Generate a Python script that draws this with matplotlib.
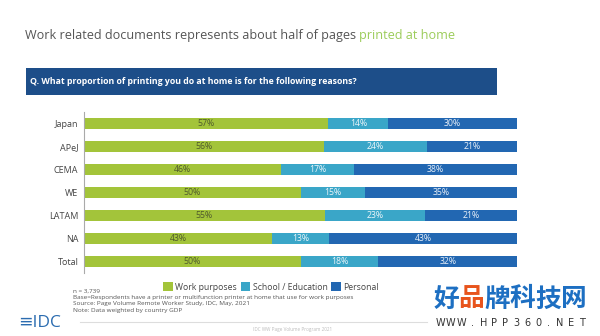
import matplotlib
matplotlib.use('Agg')
import matplotlib.pyplot as plt
from matplotlib.patches import Rectangle
from matplotlib.lines import Line2D
import numpy as np

plt.rcParams['font.family'] = ['Open Sans', 'DejaVu Sans']

# data
regions = ['Japan', 'APeJ', 'CEMA', 'WE', 'LATAM', 'NA', 'Total']
work = [57, 56, 46, 50, 55, 43, 50]
school = [14, 24, 17, 15, 23, 13, 18]
personal = [30, 21, 38, 35, 21, 43, 32]
series_names = ['Work purposes', 'School / Education', 'Personal']
series_colors = ['#a3c43a', '#3aa6c8', '#2267b2']
label_colors = ['#4f5a2c', '#eef6fa', '#e9f0f8']

title_main = 'Work related documents represents about half of pages '
title_green = 'printed at home'
question = 'Q. What proportion of printing you do at home is for the following reasons?'
notes = ['n = 3,739',
         'Base=Respondents have a printer or multifunction printer at home that use for work purposes',
         'Source: Page Volume Remote Worker Study, IDC, May, 2021',
         'Note: Data weighted by country GDP']

W, H = 600, 336
fig = plt.figure(figsize=(6, 3.36), dpi=100)

def fx(px):
    return px / W

def fy(py):
    return 1 - py / H

# title
t = fig.text(fx(25), fy(35), title_main, fontsize=9.1, color='#555555', va='center', ha='left')
fig.canvas.draw()
bb = t.get_window_extent()
fig.text(bb.x1 / W, fy(35), title_green, fontsize=9.1, color='#9ccc5a', va='center', ha='left')

# question banner
fig.patches.append(Rectangle((fx(26), fy(95)), fx(497) - fx(26), fy(68) - fy(95),
                             transform=fig.transFigure, facecolor='#1d4e89', edgecolor='none'))
fig.text(fx(30), fy(81.5), question, fontsize=6.3, fontweight='bold', color='white', va='center')

# bars
ax = fig.add_axes([fx(84), fy(273), fx(517) - fx(84), fy(112) - fy(273)])
data = np.array([work, school, personal], dtype=float)
shares = data / data.sum(axis=0) * 100
y = np.arange(len(regions))
left = np.zeros(len(regions))
for i in range(3):
    ax.barh(y, shares[i], left=left, height=0.52, color=series_colors[i], label=series_names[i])
    for j in range(len(regions)):
        ax.text(left[j] + shares[i][j] / 2, y[j], '%d%%' % data[i][j], ha='center', va='center',
                fontsize=6.3, color=label_colors[i])
    left += shares[i]

ax.set_xlim(0, 100)
ax.set_ylim(len(regions) - 0.5, -0.5)
ax.set_yticks(y)
ax.set_yticklabels(regions, fontsize=6.5, color='#444444')
ax.tick_params(axis='y', length=0, pad=4)
ax.set_xticks([])
for s in ['top', 'right', 'bottom']:
    ax.spines[s].set_visible(False)
ax.spines['left'].set_color('#aaaaaa')
ax.spines['left'].set_linewidth(0.8)
ax.patch.set_alpha(0)

# legend
handles = [Rectangle((0, 0), 1, 1, facecolor=c, edgecolor='none') for c in series_colors]
fig.legend(handles, series_names, loc='center', bbox_to_anchor=(fx(271), fy(287)), ncol=3,
           frameon=False, fontsize=6.2, handlelength=1.1, handleheight=1.1, handletextpad=0.3,
           columnspacing=0.4, labelcolor='#444444')

# footnotes
for k, line in enumerate(notes):
    fig.text(fx(73), fy(291 + k * 6.4), line, fontsize=4.6, color='#555555', va='center')

# footer
fig.add_artist(Line2D([fx(80), fx(427)], [fy(322), fy(322)], transform=fig.transFigure,
                      color='#dddddd', lw=0.8))
fig.text(fx(293), fy(330), 'IDC WW Page Volume Program 2021', fontsize=3.3, color='#bbbbbb',
         ha='center', va='center')
fig.text(fx(18), fy(323), '\u2261IDC', fontsize=12.5, color='#2b6cb0', va='center', ha='left')

# watermark
wm_chars = '好品牌科技网'
wm_colors = ['#1d6fc2', '#e8541c', '#1d6fc2', '#1d6fc2', '#1d6fc2', '#1d6fc2']
for i, ch in enumerate(wm_chars):
    fig.text(fx(446 + i * 25.5), fy(299), ch, fontsize=18.5, fontweight='heavy', color=wm_colors[i],
             family=['Noto Sans CJK SC'], ha='center', va='center')
for i, ch in enumerate('WWW.HPP360.NET'):
    fig.text(fx(440 + i * 10.9), fy(323), ch, fontsize=7, color='#333333',
             ha='center', va='center', family=['DejaVu Sans'])

fig.savefig('out.png', dpi=100)
